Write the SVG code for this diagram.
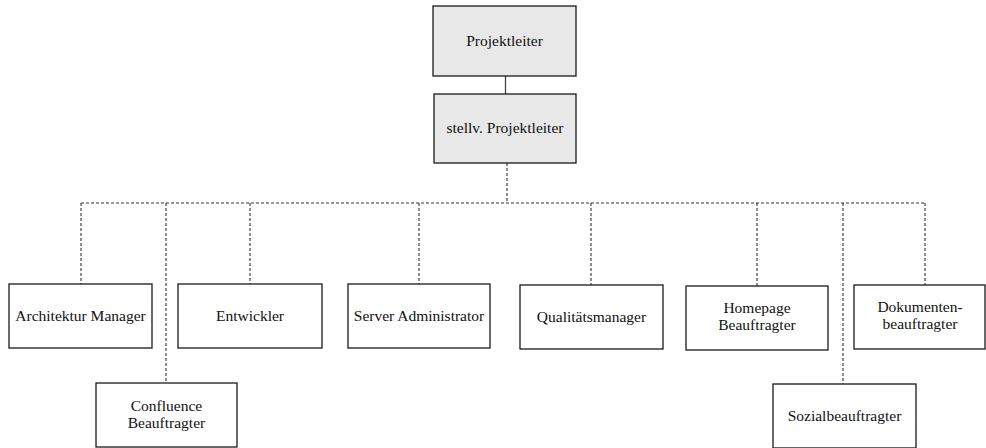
<svg xmlns="http://www.w3.org/2000/svg" width="986" height="448" viewBox="0 0 986 448">
<style>
.box{fill:#fff;stroke:#1a1a1a;stroke-width:1.3}
.lead{fill:#e8e8e8}
.solid{stroke:#444;stroke-width:1.3;fill:none}
.dash{stroke:#333;stroke-width:1.1;stroke-dasharray:3,2;fill:none}
</style>
<rect width="986" height="448" fill="#fff"/>
<g id="connectors">
<path class="solid" d="M505.5 76V94"/>
<path class="dash" d="M507 163V203M81 203H925M81 203V284M166 203V383M250 203V284M419 203V284M591 203V285M757 203V286M843 203V384M925 203V285"/>
</g>
<g id="nodes" font-family="Liberation Serif" font-size="15.5" fill="#111" text-anchor="middle">
<g id="projektleiter"><rect class="box lead" x="433" y="6" width="143" height="70"/><text x="504.5" y="46">Projektleiter</text></g>
<g id="stellv"><rect class="box lead" x="434" y="94" width="142" height="69"/><text x="505" y="133">stellv. Projektleiter</text></g>
<g id="architektur"><rect class="box" x="9" y="284" width="143" height="64"/><text x="80.5" y="321">Architektur Manager</text></g>
<g id="entwickler"><rect class="box" x="178" y="284" width="144" height="64"/><text x="250" y="321">Entwickler</text></g>
<g id="server"><rect class="box" x="348" y="284" width="142" height="64"/><text x="419" y="321">Server Administrator</text></g>
<g id="qualitaet"><rect class="box" x="520" y="285" width="143" height="64"/><text x="591.5" y="322">Qualitätsmanager</text></g>
<g id="homepage"><rect class="box" x="686" y="286" width="142" height="64"/><text x="757" y="313">Homepage</text><text x="757" y="330">Beauftragter</text></g>
<g id="dokumenten"><rect class="box" x="854" y="285" width="131" height="64"/><text x="920" y="312">Dokumenten-</text><text x="920" y="329">beauftragter</text></g>
<g id="confluence"><rect class="box" x="96" y="383" width="141" height="64"/><text x="166.5" y="411">Confluence</text><text x="166.5" y="428">Beauftragter</text></g>
<g id="sozial"><rect class="box" x="773" y="384" width="143" height="64"/><text x="844.5" y="421">Sozialbeauftragter</text></g>
</g>
</svg>
